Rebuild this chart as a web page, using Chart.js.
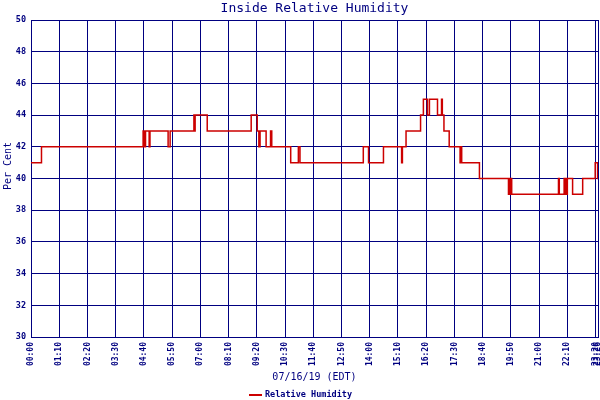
<!DOCTYPE html>
<html>
<head>
<meta charset="utf-8">
<script src="https://cdn.jsdelivr.net/npm/chart.js"></script>
<style>
  html,body{margin:0;padding:0;background:#fff;}
</style>
</head>
<body>
<canvas id="rh" width="600" height="400"></canvas>
<script>
// readings: time the value changed, and the new value (per cent)
const times = ['00:00','00:26','04:38','04:41','04:44','04:53','04:55','05:40','05:45','06:44',
  '06:45','06:47','07:17','09:06','09:21','09:25','09:28','09:43','09:54','09:57',
  '10:44','11:03','11:07','13:44','13:57','14:34','15:19','15:21','15:30','16:06',
  '16:13','16:23','16:28','16:48','16:58','17:00','17:04','17:17','17:44','17:46',
  '17:48','18:32','19:44','19:46','19:48','19:50','19:52','21:48','21:50','22:02',
  '22:04','22:06','22:08','22:10','22:23','22:48','23:19','23:25','23:26'];
const humidity = [41,42,43,42,43,42,43,42,43,44,
  43,44,43,44,43,42,43,42,43,42,
  41,42,41,42,41,42,41,42,43,44,
  45,44,45,44,45,44,43,42,41,42,
  41,40,39,40,39,40,39,40,39,40,
  39,40,39,40,39,40,41,40,40];
const xTickTimes = ['00:00','01:10','02:20','03:30','04:40','05:50','07:00','08:10','09:20','10:30',
  '11:40','12:50','14:00','15:10','16:20','17:30','18:40','19:50','21:00','22:10','23:20','23:26'];
const yTicks = [30,32,34,36,38,40,42,44,46,48,50];

const navy = '#000080';
const red = '#cc0000';
const mono = '"DejaVu Sans Mono", "Liberation Mono", monospace';

const toMin = t => { const p = t.split(':'); return (+p[0])*60 + (+p[1]); };
const toLabel = m => String(Math.floor(m/60)).padStart(2,'0') + ':' + String(m%60).padStart(2,'0');

const points = times.map((t,i) => ({x: toMin(t), y: humidity[i]}));

const textPlugin = {
  id: 'texts',
  afterDraw(chart){
    const ctx = chart.ctx, a = chart.chartArea;
    const mid = (a.left + a.right)/2;
    ctx.save();
    ctx.fillStyle = navy;
    ctx.textAlign = 'center';
    ctx.textBaseline = 'middle';
    ctx.font = '13px ' + mono;
    ctx.fillText('Inside Relative Humidity', mid, 9);
    ctx.font = '10px ' + mono;
    ctx.fillText('07/16/19 (EDT)', mid, 377);
    ctx.save();
    ctx.translate(8, 166);
    ctx.rotate(-Math.PI/2);
    ctx.fillText('Per Cent', 0, 0);
    ctx.restore();
    // legend
    ctx.strokeStyle = red;
    ctx.lineWidth = 2;
    ctx.beginPath(); ctx.moveTo(249, 395); ctx.lineTo(262, 395); ctx.stroke();
    ctx.textAlign = 'left';
    ctx.font = 'bold 8.5px ' + mono;
    ctx.fillText('Relative Humidity', 265, 395);
    ctx.restore();
  }
};

new Chart(document.getElementById('rh').getContext('2d'), {
  type: 'line',
  data: {
    datasets: [{
      label: 'Relative Humidity',
      data: points,
      borderColor: red,
      borderWidth: 1.5,
      pointRadius: 0,
      stepped: true,
      fill: false
    }]
  },
  options: {
    responsive: false,
    animation: false,
    layout: {padding: {top: 20, right: 2, left: 0, bottom: 0}},
    plugins: {legend: {display: false}, title: {display: false}, tooltip: {enabled: false}},
    scales: {
      x: {
        type: 'linear',
        min: 0,
        max: toMin(xTickTimes[xTickTimes.length-1]),
        afterBuildTicks: s => { s.ticks = xTickTimes.map(t => ({value: toMin(t)})); },
        afterFit: s => { s.height = 63; s.paddingLeft = 0; s.paddingRight = 0; },
        grid: {color: navy, lineWidth: 1, drawTicks: false},
        border: {color: navy, width: 1},
        ticks: {
          color: navy, font: {family: mono, size: 8, weight: 'bold'},
          minRotation: 90, maxRotation: 90, autoSkip: false, padding: 5,
          callback: v => toLabel(v)
        }
      },
      y: {
        min: yTicks[0],
        max: yTicks[yTicks.length-1],
        afterBuildTicks: s => { s.ticks = yTicks.map(v => ({value: v})); },
        afterFit: s => { s.width = 31; s.paddingTop = 0; s.paddingBottom = 0; },
        grid: {color: navy, lineWidth: 1, drawTicks: false},
        border: {color: navy, width: 1},
        ticks: {color: navy, font: {family: mono, size: 8.5, weight: 'bold'}, padding: 5}
      }
    }
  },
  plugins: [textPlugin]
});
</script>
</body>
</html>
